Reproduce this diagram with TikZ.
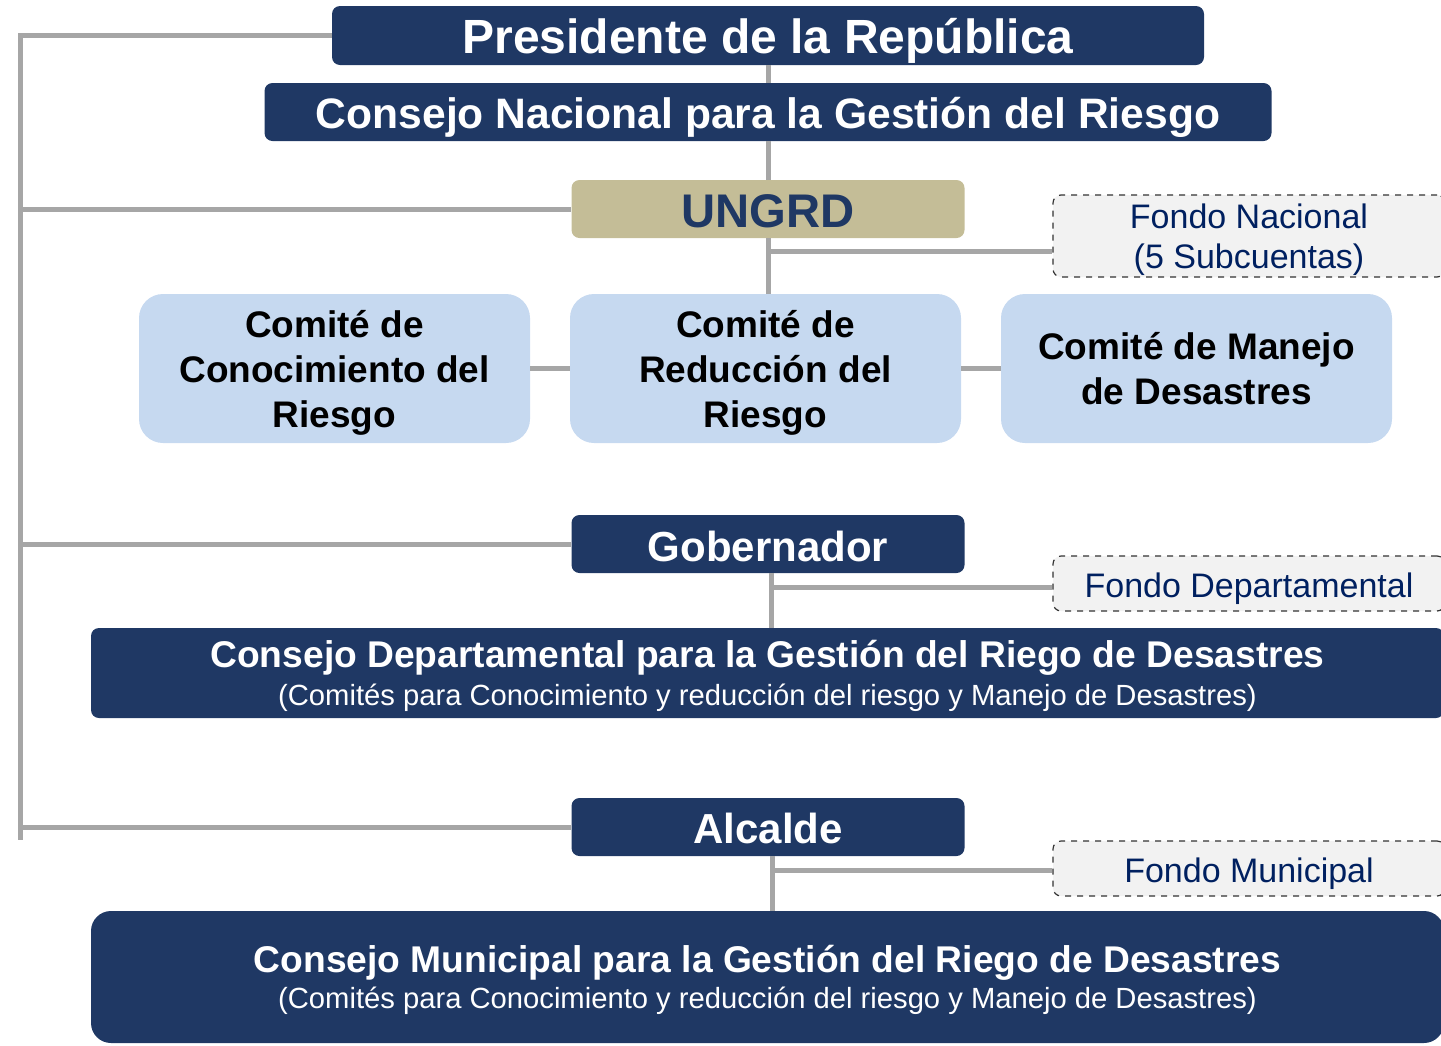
\documentclass[tikz,border=0pt]{standalone}
\usepackage{fontspec}
\setmainfont{Liberation Sans}
\usepackage{xcolor}
\definecolor{navy}{RGB}{31,56,100}
\definecolor{ungrdtan}{RGB}{196,189,151}
\definecolor{comblue}{RGB}{198,217,240}
\definecolor{linegray}{RGB}{166,166,166}
\definecolor{fondofill}{RGB}{242,242,242}
\definecolor{fondotext}{RGB}{0,32,96}

\begin{document}
\begin{tikzpicture}[x=0.5pt,y=0.5pt,yscale=-1,xscale=1,
  navybox/.style={fill=navy, text=white, rounded corners=4pt, inner sep=0pt, align=center},
  comite/.style={fill=comblue, text=black, rounded corners=12pt, inner sep=0pt, align=center,
    minimum width=195.5pt, minimum height=74.5pt, font=\fontsize{18.5}{22.5}\selectfont\bfseries},
  fondo/.style={fill=fondofill, draw=black!80, dashed, line width=0.6pt, text=fondotext, rounded corners=4pt,
    inner sep=0pt, align=center, minimum width=196pt, font=\fontsize{17}{20}\selectfont},
  conn/.style={draw=linegray, line width=2.5pt}]
\useasboundingbox (0,0) rectangle (1441,1045);
\clip (0,0) rectangle (1441,1045);

%Shape: Rectangle [presidente]
\node [navybox, minimum width=436pt, minimum height=29.5pt, text height=22.5pt, font=\fontsize{24}{28}\selectfont\bfseries] (pres) at (768,35.5) {Presidente de la República};
%Shape: Rectangle [consejo nacional]
\node [navybox, minimum width=503.5pt, minimum height=29pt, text height=20.6pt, font=\fontsize{21.3}{25}\selectfont\bfseries] (cnal) at (768,112) {Consejo Nacional para la Gestión del Riesgo};
%Shape: Rectangle [ungrd]
\node [navybox, fill=ungrdtan, text=navy, minimum width=196.5pt, minimum height=29pt, text height=19pt, font=\fontsize{23.6}{28}\selectfont\bfseries] (ungrd) at (768,209) {UNGRD};
%Shape: Rectangle [fondo nacional]
\node [fondo, minimum height=41pt, text depth=-1.4pt] (fnac) at (1249,236) {Fondo Nacional\\(5 Subcuentas)};

%Shape: Rectangle [comites]
\node [comite, text depth=0pt] (ccon) at (334.5,368.5) {Comité de\\Conocimiento del\\Riesgo};
\node [comite, text depth=0pt] (cred) at (765.5,368.5) {Comité de\\Reducción del\\Riesgo};
\node [comite] (cman) at (1196.5,368.5) {Comité de Manejo\\de Desastres};

%Shape: Rectangle [gobernador]
\node [navybox, minimum width=196.5pt, minimum height=29pt, text height=17.3pt, font=\fontsize{21}{25}\selectfont\bfseries] (gob) at (768,544) {Gobernador};
\node [fondo, minimum height=27.5pt, text height=17.4pt] (fdep) at (1249,583.5) {Fondo Departamental};
\node [navybox, minimum width=676.5pt, minimum height=45pt, text depth=-2.7pt, font=\fontsize{14.6}{18.7}\selectfont] (cdep) at (767.5,673)
  {{\fontsize{18.6}{18.7}\selectfont\bfseries Consejo Departamental para la Gestión del Riego de Desastres}\\(Comités para Conocimiento y reducción del riesgo y Manejo de Desastres)};

%Shape: Rectangle [alcalde]
\node [navybox, minimum width=196.5pt, minimum height=29pt, text height=16.3pt, font=\fontsize{21}{25}\selectfont\bfseries] (alc) at (768,827) {Alcalde};
\node [fondo, minimum height=27.5pt, text height=17.4pt] (fmun) at (1249,868.5) {Fondo Municipal};
\node [navybox, rounded corners=10pt, minimum width=676.5pt, minimum height=66pt, text depth=-3.5pt, font=\fontsize{14.6}{17.9}\selectfont] (cmun) at (767.5,977)
  {{\fontsize{18.6}{17.9}\selectfont\bfseries Consejo Municipal para la Gestión del Riego de Desastres}\\(Comités para Conocimiento y reducción del riesgo y Manejo de Desastres)};

%Straight Lines [left spine]
\coordinate (spinebot) at (20,840);
\draw [conn] (pres.west) -| (spinebot);
\draw [conn] (ungrd.west -| spinebot) -- (ungrd.west);
\draw [conn] (gob.west -| spinebot) -- (gob.west);
\draw [conn] (alc.west -| spinebot) -- (alc.west);
%Straight Lines [central column]
\draw [conn] (pres.south) -- (cnal.north);
\draw [conn] (cnal.south) -- (ungrd.north);
\draw [conn] (ungrd.south) -- (ungrd.south |- cred.north);
\coordinate (fnacin) at ([yshift=7.5pt]fnac.west);
\draw [conn] (fnacin -| ungrd.south) -- (fnacin);
\draw [conn] (ccon.east) -- (cred.west);
\draw [conn] (cred.east) -- (cman.west);
%Straight Lines [departamento]
\coordinate (gobout) at ([xshift=1.5pt]gob.south);
\draw [conn] (gobout) -- (gobout |- cdep.north);
\coordinate (fdepin) at ([yshift=2pt]fdep.west);
\draw [conn] (fdepin -| gobout) -- (fdepin);
%Straight Lines [municipio]
\coordinate (alcout) at ([xshift=2pt]alc.south);
\draw [conn] (alcout) -- (alcout |- cmun.north);
\coordinate (fmunin) at ([yshift=1pt]fmun.west);
\draw [conn] (fmunin -| alcout) -- (fmunin);
\end{tikzpicture}
\end{document}
